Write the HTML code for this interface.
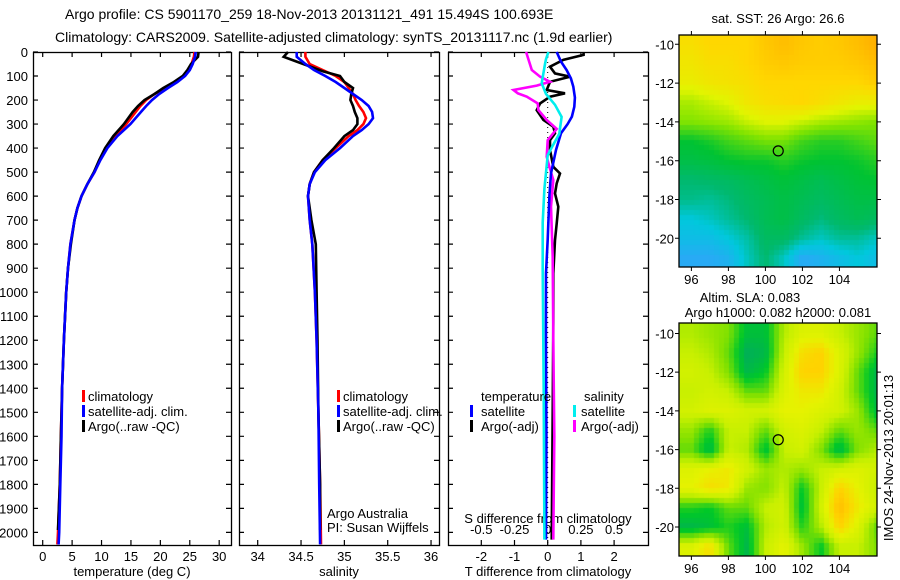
<!DOCTYPE html>
<html><head><meta charset="utf-8"><style>
html,body{margin:0;padding:0;background:#fff;}
#wrap{position:relative;width:900px;height:580px;overflow:hidden;font-family:"Liberation Sans",sans-serif;}
svg text{font-family:"Liberation Sans",sans-serif;fill:#000;}
canvas{position:absolute;}
</style></head><body>
<div id="wrap">
<canvas id="sst" width="198" height="232" style="left:679px;top:35px;width:198px;height:232px"></canvas>
<canvas id="sla" width="198" height="233" style="left:679px;top:323px;width:198px;height:233px"></canvas>
<svg id="chart" width="900" height="580" style="position:absolute;left:0;top:0">
<text x="65" y="19" font-size="14">Argo profile: CS 5901170_259 18-Nov-2013 20131121_491 15.494S 100.693E</text>
<text x="55" y="42" font-size="14">Climatology: CARS2009. Satellite-adjusted climatology: synTS_20131117.nc (1.9d earlier)</text>
<g id="g"></g>
</svg>
</div>
<script>
// ---------- data ----------
const depthTicks=[0,100,200,300,400,500,600,700,800,900,1000,1100,1200,1300,1400,1500,1600,1700,1800,1900,2000];
const tempTicks=[0,5,10,15,20,25,30];
const salTicks=[34,34.5,35,35.5,36];
const salTickLabels=["34","34.5","35","35.5","36"];
const tdiffTicks=[-2,-1,0,1,2];
const sdiffTicks=[-0.5,-0.25,0,0.25,0.5];
const sdiffTickLabels=["-0.5","-0.25","0","0.25","0.5"];

const tDepth=[0,20,50,75,100,125,150,175,200,225,250,300,350,400,450,500,550,600,650,700,800,900,1000,1200,1400,1600,1800,2000,2050];
const tClim=[25.8,25.7,25.3,24.8,24.0,22.5,20.8,19.0,17.6,16.6,15.8,14.2,12.3,10.8,9.7,8.8,7.6,6.6,5.9,5.4,4.7,4.3,4.0,3.6,3.3,3.1,2.9,2.6,2.5];
const tSat=[26.0,25.9,25.5,25.0,24.2,22.9,21.3,19.8,18.6,17.6,16.7,14.9,12.7,11.0,9.8,8.8,7.6,6.6,5.9,5.4,4.7,4.3,4.0,3.6,3.3,3.2,3.0,2.8,2.7];
const tArgoDepth=[0,20,50,75,100,125,150,175,200,225,250,300,350,400,450,500,550,600,650,700,800,900,1000,1200,1400,1600,1800,1990];
const tArgo=[26.5,26.4,25.2,24.6,23.8,22.3,20.5,19.0,17.3,16.2,15.3,13.8,12.0,10.6,9.6,8.7,7.6,6.6,5.9,5.4,4.8,4.3,4.0,3.6,3.3,3.1,2.9,2.6];

const sDepth=[0,20,50,75,100,125,150,175,200,225,250,275,300,325,350,400,450,500,550,600,700,800,1000,1200,1500,1800,2050];
const sClim=[34.55,34.55,34.6,34.75,34.9,35.0,35.05,35.1,35.13,35.17,35.22,35.25,35.22,35.15,35.05,34.9,34.75,34.65,34.6,34.58,34.6,34.63,34.66,34.68,34.7,34.72,34.73];
const sSat=[34.45,34.45,34.55,34.65,34.78,34.9,35.0,35.1,35.2,35.28,35.32,35.33,35.28,35.2,35.1,34.95,34.78,34.66,34.6,34.58,34.6,34.63,34.66,34.68,34.7,34.71,34.72];
const sArgoDepth=[0,20,40,60,80,100,125,150,175,200,225,250,275,300,325,350,400,450,500,550,600,700,800,1000,1200,1500,1800,1990];
const sArgo=[34.35,34.3,34.45,34.6,34.75,34.95,35.0,35.1,35.08,35.07,35.1,35.12,35.15,35.15,35.1,35.0,34.88,34.75,34.65,34.6,34.58,34.62,34.67,34.68,34.69,34.7,34.72,34.72];

const dtSatDepth=[0,40,75,110,144,190,228,269,300,338,408,505,600,780,920,1200,1600,2030];
const dtSat=[0.27,0.4,0.57,0.7,0.77,0.82,0.8,0.73,0.6,0.4,0.25,0.1,0.05,0.0,-0.05,-0.05,-0.04,-0.05];
const dtArgoDepth=[0,12,33,61,89,103,124,158,172,186,214,242,283,311,339,367,408,478,506,547,589,644,714,783,922,1130,1500,2030];
const dtArgo=[1.08,1.08,0.47,0.07,0.22,0.67,0.07,-0.03,0.52,0.07,-0.23,-0.33,-0.13,0.17,0.22,0.07,0.07,0.17,0.37,0.27,0.22,0.32,0.27,0.22,0.17,0.17,0.15,0.12];
const dsSatDepth=[0,30,50,130,175,220,270,340,390,430,570,710,900,1400,2030];
const dsSat=[0.005,-0.0125,-0.02,-0.045,-0.0125,0.055,0.105,0.0875,0.0375,0,-0.025,-0.0375,-0.0375,-0.03,-0.025];
const dsArgoDepth=[0,75,103,124,140,158,172,186,214,242,283,320,367,436,478,533,644,853,1200,1600,2030];
const dsArgo=[-0.1625,-0.12,-0.0575,0.0175,-0.0825,-0.2575,-0.225,-0.1575,-0.075,-0.07,-0.0075,0.0675,0,-0.0075,0.0125,0.0425,0.025,0.0375,0.0425,0.05,0.0425];

const mapLons=[96,97,98,99,100,101,102,103,104,105,106];
const mapLats=[-10,-11,-12,-13,-14,-15,-16,-17,-18,-19,-20,-21];
const sstGrid=[
[0.68,0.7,0.7,0.7,0.73,0.75,0.73,0.72,0.73,0.75,0.78],
[0.66,0.68,0.68,0.7,0.72,0.73,0.72,0.72,0.72,0.73,0.75],
[0.64,0.66,0.67,0.68,0.7,0.7,0.7,0.7,0.7,0.7,0.72],
[0.58,0.6,0.62,0.66,0.68,0.69,0.7,0.68,0.66,0.64,0.64],
[0.55,0.56,0.57,0.6,0.62,0.62,0.6,0.58,0.57,0.56,0.55],
[0.45,0.47,0.5,0.52,0.54,0.54,0.5,0.48,0.48,0.5,0.52],
[0.42,0.43,0.45,0.46,0.46,0.48,0.46,0.45,0.45,0.46,0.48],
[0.36,0.37,0.38,0.4,0.42,0.44,0.42,0.4,0.42,0.44,0.45],
[0.34,0.33,0.35,0.38,0.4,0.42,0.4,0.38,0.4,0.42,0.42],
[0.28,0.3,0.33,0.36,0.4,0.42,0.38,0.35,0.38,0.4,0.38],
[0.25,0.25,0.28,0.32,0.38,0.38,0.33,0.3,0.33,0.33,0.3],
[0.2,0.2,0.22,0.3,0.36,0.3,0.2,0.22,0.25,0.28,0.25]];
const slaGrid=[
[0.45,0.4,0.35,0.1,0.1,0.45,0.6,0.6,0.5,0.4,0.3],
[0.5,0.45,0.3,0.0,0.05,0.5,0.75,0.8,0.6,0.4,0.2],
[0.55,0.5,0.35,0.05,0.15,0.55,0.8,0.8,0.6,0.3,0.05],
[0.5,0.55,0.5,0.3,0.3,0.6,0.7,0.7,0.55,0.3,0.05],
[0.55,0.6,0.6,0.55,0.55,0.65,0.65,0.6,0.55,0.4,0.1],
[0.4,0.2,0.5,0.5,0.3,0.55,0.6,0.5,0.3,0.4,0.3],
[0.3,0.05,0.5,0.45,0.1,0.5,0.55,0.35,0.05,0.35,0.45],
[0.6,0.65,0.7,0.55,0.4,0.45,0.4,0.5,0.55,0.6,0.55],
[0.65,0.75,0.7,0.4,0.35,0.5,0.15,0.5,0.8,0.65,0.5],
[0.2,0.15,0.3,0.3,0.5,0.55,0.1,0.55,0.9,0.7,0.55],
[0.05,0.1,0.2,0.1,0.45,0.55,0.2,0.45,0.8,0.6,0.3],
[0.6,0.75,0.3,0.05,0.5,0.65,0.4,0.15,0.5,0.5,0.35]];
const argoLon=100.693, argoLat=-15.494;
const mapLonTicks=[96,98,100,102,104];
const mapLatTicks=[-10,-12,-14,-16,-18,-20];

// ---------- drawing ----------
const NS="http://www.w3.org/2000/svg";
const G=document.getElementById('g');
function mk(tag,attrs,parent){const e=document.createElementNS(NS,tag);for(const k in attrs)e.setAttribute(k,attrs[k]);(parent||G).appendChild(e);return e;}
const TOP=52,BOT=545;
const yD=d=>TOP+d*0.2402;
const P1={l:33,r:231}, P2={l:239,r:439}, P3={l:448,r:648};
const xT=t=>42.7+t*5.883;
const xS=s=>257.7+(s-34)*86.67;
const xDT=t=>547.7+t*33.2;
const xDS=s=>547.7+s*4*33.2;

function frame(P,name){
  const r=mk('rect',{x:P.l+0.5,y:TOP+0.5,width:P.r-P.l,height:BOT-TOP,fill:'none',stroke:'#000','stroke-width':1.3});
  
  
  depthTicks.forEach(d=>{
    const t=mk('path',{d:`M${P.l} ${yD(d)}h5M${P.r} ${yD(d)}h-5`,stroke:'#000','stroke-width':1.2});
    
    
  });
}
function xticks(vals,fx,labels,name){
  vals.forEach((v,i)=>{
    const x=fx(v);
    const t=mk('path',{d:`M${x} ${BOT}v-5M${x} ${TOP}v5`,stroke:'#000','stroke-width':1.2});
    
    
    const tx=mk('text',{x:x,y:561,'font-size':13,'text-anchor':'middle'});
    tx.textContent=labels?labels[i]:String(v);
    
    
  });
}
function line(ds,vs,fx,color,name,w){
  const pts=ds.map((d,i)=>fx(vs[i]).toFixed(1)+','+yD(d).toFixed(1)).join(' ');
  const p=mk('polyline',{points:pts,fill:'none',stroke:color,'stroke-width':w||2.6,'stroke-linejoin':'miter'});
  
  
}
function label(x,y,txt,name,size,anchor){
  const t=mk('text',{x:x,y:y,'font-size':size||13,'text-anchor':anchor||'start'});
  t.textContent=txt;
  
  
  return t;
}
function legBar(x,y,color,name){
  const r=mk('rect',{x:x,y:y-11,width:3,height:12,fill:color});
  
  
}

depthTicks.forEach(d=>{
  const t=mk('text',{x:28,y:yD(d)+5,'font-size':13,'text-anchor':'end'});
  t.textContent=String(d);
  
  
});

// panel 1
frame(P1,'temperature-panel');
xticks(tempTicks,xT,null,'temperature');
label(132,576,'temperature (deg C)','temperature-axis-title',13,'middle');
line(tDepth,tClim,xT,'#ff0000','temp-climatology-line');
line(tArgoDepth,tArgo,xT,'#000000','temp-argo-line');
line(tDepth,tSat,xT,'#0000ff','temp-satellite-line');
legBar(82,401,'#f00','legend-climatology-swatch');label(88,401,'climatology','legend-climatology');
legBar(82,416,'#00f','legend-satellite-swatch');label(88,416,'satellite-adj. clim.','legend-satellite');
legBar(82,431,'#000','legend-argo-swatch');label(88,431,'Argo(..raw -QC)','legend-argo');

// panel 2
frame(P2,'salinity-panel');
xticks(salTicks,xS,salTickLabels,'salinity');
label(339,576,'salinity','salinity-axis-title',13,'middle');
line(sDepth,sClim,xS,'#ff0000','sal-climatology-line');
line(sArgoDepth,sArgo,xS,'#000000','sal-argo-line');
line(sDepth,sSat,xS,'#0000ff','sal-satellite-line');
legBar(337,401,'#f00','legend2-climatology-swatch');label(343,401,'climatology','legend2-climatology');
legBar(337,416,'#00f','legend2-satellite-swatch');label(343,416,'satellite-adj. clim.','legend2-satellite');
legBar(337,431,'#000','legend2-argo-swatch');label(343,431,'Argo(..raw -QC)','legend2-argo');
label(327,518,'Argo Australia','credit-institution');
label(327,532,'PI: Susan Wijffels','credit-pi');

// panel 3
frame(P3,'difference-panel');
xticks(tdiffTicks,xDT,null,'tdiff');
label(548,576,'T difference from climatology','tdiff-axis-title',13,'middle');
sdiffTicks.forEach((v,i)=>{
  const t=mk('text',{x:xDS(v),y:534,'font-size':13,'text-anchor':'middle'});
  t.textContent=sdiffTickLabels[i];
  
  
});
label(548,523,'S difference from climatology','sdiff-axis-title',13,'middle');
const z=mk('line',{x1:xDT(0),x2:xDT(0),y1:TOP,y2:BOT,stroke:'#000','stroke-width':1,'stroke-dasharray':'1,4'});


line(dtArgoDepth,dtArgo,xDT,'#000000','tdiff-argo-line');
line(dsArgoDepth,dsArgo,xDS,'#ff00ff','sdiff-argo-line');
line(dtSatDepth,dtSat,xDT,'#0000ff','tdiff-satellite-line');
line(dsSatDepth,dsSat,xDS,'#00eeee','sdiff-satellite-line');
label(481,401,'temperature','legend3-temperature-header');
legBar(470,416,'#00f','legend3-tsat-swatch');label(481,416,'satellite','legend3-tsat');
legBar(470,431,'#000','legend3-targo-swatch');label(481,431,'Argo(-adj)','legend3-targo');
label(584,401,'salinity','legend3-salinity-header');
legBar(573,416,'#00eeee','legend3-ssat-swatch');label(581,416,'satellite','legend3-ssat');
legBar(573,431,'#f0f','legend3-sargo-swatch');label(581,431,'Argo(-adj)','legend3-sargo');

// maps
const LON0=95.33,LON1=106.03;
function interp(grid,lon,lat){
  let fx=(lon-mapLons[0])/(mapLons[1]-mapLons[0]);
  let fy=(mapLats[0]-lat)/(mapLats[0]-mapLats[1]);
  fx=Math.max(0,Math.min(mapLons.length-1.001,fx));
  fy=Math.max(0,Math.min(mapLats.length-1.001,fy));
  const i=Math.floor(fx),j=Math.floor(fy),a=fx-i,b=fy-j;
  return grid[j][i]*(1-a)*(1-b)+grid[j][i+1]*a*(1-b)+grid[j+1][i]*(1-a)*b+grid[j+1][i+1]*a*b;
}
function cmap(stops,v){
  for(let k=1;k<stops.length;k++){
    if(v<=stops[k][0]){const s0=stops[k-1],s1=stops[k];const t=(v-s0[0])/(s1[0]-s0[0]);
      return s0[1].map((c,q)=>Math.round(c+(s1[1][q]-c)*t));}
  }
  return stops[stops.length-1][1];
}
const sstStops=[[0,[40,140,255]],[0.2,[40,170,245]],[0.28,[0,200,220]],[0.36,[0,185,110]],[0.45,[0,195,50]],[0.55,[130,228,0]],[0.62,[225,245,0]],[0.7,[255,215,0]],[0.8,[255,165,0]],[1,[180,0,0]]];
const slaStops=[[0,[0,175,90]],[0.15,[0,200,40]],[0.35,[130,225,0]],[0.5,[200,240,0]],[0.65,[230,242,0]],[0.8,[255,210,0]],[1,[255,170,0]]];
function drawMap(id,grid,stops,latTop,latBot,cell){
  const c=document.getElementById(id),ctx=c.getContext('2d');
  const W=c.width,H=c.height;
  for(let y=0;y<H;y+=cell)for(let x=0;x<W;x+=cell){
    const lon=LON0+(x+cell/2)/W*(LON1-LON0);
    const lat=latTop+(y+cell/2)/H*(latBot-latTop);
    const col=cmap(stops,interp(grid,lon,lat));
    ctx.fillStyle=`rgb(${col[0]},${col[1]},${col[2]})`;
    ctx.fillRect(x,y,cell,cell);
  }
}
drawMap('sst',sstGrid,sstStops,-9.52,-21.48,5);
drawMap('sla',slaGrid,slaStops,-9.46,-21.5,5);

function mapAxes(top,h,latTop,latBot,name){
  const l=679,w=198;
  const fx=lon=>l+(lon-LON0)/(LON1-LON0)*w;
  const fy=lat=>top+(latTop-lat)/(latTop-latBot)*h;
  const r=mk('rect',{x:l,y:top,width:w,height:h,fill:'none',stroke:'#000','stroke-width':1.3});
  
  
  mapLonTicks.forEach(v=>{
    const t=mk('path',{d:`M${fx(v)} ${top}v-4M${fx(v)} ${top+h}v4`,stroke:'#000','stroke-width':1});
    
    
    label(fx(v),top+h+17,String(v),name+'-lon-label',13,'middle');
  });
  mapLatTicks.forEach(v=>{
    const t=mk('path',{d:`M${l} ${fy(v)}h-4M${l+w} ${fy(v)}h4`,stroke:'#000','stroke-width':1});
    
    
    label(l-5,fy(v)+5,String(v),name+'-lat-label',13,'end');
  });
  const c=mk('circle',{cx:fx(argoLon),cy:fy(argoLat),r:5,fill:'none',stroke:'#000','stroke-width':1.2});
  
  
}
mapAxes(35,232,-9.52,-21.48,'sst-map');
mapAxes(323,233,-9.46,-21.5,'sla-map');
label(778,23,'sat. SST: 26 Argo: 26.6','sst-map-title',13,'middle');
label(750,302,'Altim. SLA: 0.083','sla-map-title',13,'middle');
label(778,317,'Argo h1000: 0.082 h2000: 0.081','sla-map-subtitle',13,'middle');
const ts=label(0,0,'IMOS 24-Nov-2013 20:01:13','timestamp',13,'middle');
ts.setAttribute('transform','translate(893,458) rotate(-90)');
</script>
</body></html>
